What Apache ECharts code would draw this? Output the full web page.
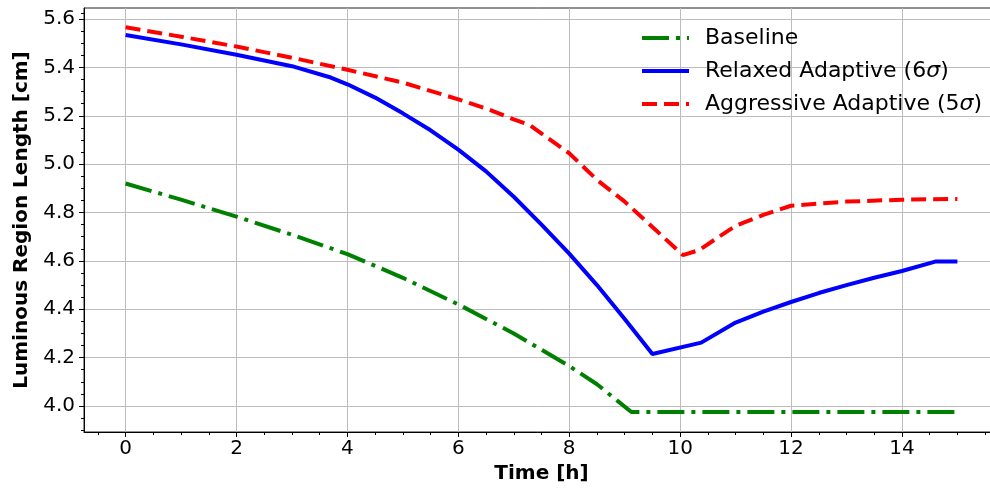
<!DOCTYPE html>
<html>
<head>
<meta charset="utf-8">
<script src="https://cdn.jsdelivr.net/npm/echarts@6/dist/echarts.min.js"></script>
<style>html,body{margin:0;padding:0;background:#fff}#c{width:990px;height:491px}</style>
</head>
<body>
<div id="c"></div>
<script>
var seriesNames = ['Baseline', 'Relaxed Adaptive (6σ)', 'Aggressive Adaptive (5σ)'];
var baseX = [0, 1, 2, 3, 4, 5, 6, 7, 8, 8.5, 9.12, 15];
var baseY = [4.92, 4.853, 4.783, 4.708, 4.628, 4.53, 4.42, 4.30, 4.165, 4.09, 3.975, 3.975];
var relX = [0, 1, 2, 3, 3.7, 4, 4.5, 5, 5.5, 6, 6.5, 7, 7.5, 8, 8.5, 9, 9.5, 10.38, 11, 11.5, 12, 12.5, 13, 13.5, 14, 14.6, 15];
var relY = [5.534, 5.495, 5.452, 5.405, 5.358, 5.33, 5.275, 5.21, 5.14, 5.06, 4.97, 4.865, 4.75, 4.63, 4.50, 4.36, 4.215, 4.262, 4.345, 4.39, 4.43, 4.467, 4.50, 4.53, 4.558, 4.597, 4.597];
var aggX = [0, 1, 2, 3, 4, 5, 6, 6.5, 7, 7.3, 7.6, 8, 8.5, 9, 9.5, 10.05, 10.35, 10.7, 11, 11.5, 12, 13, 14, 15];
var aggY = [5.566, 5.527, 5.486, 5.44, 5.39, 5.337, 5.268, 5.23, 5.185, 5.16, 5.11, 5.045, 4.935, 4.845, 4.74, 4.624, 4.645, 4.70, 4.745, 4.79, 4.828, 4.845, 4.853, 4.856];
var xTicks = [0, 2, 4, 6, 8, 10, 12, 14];
var xMinor = [-0.5, 0.5, 1, 1.5, 2.5, 3, 3.5, 4.5, 5, 5.5, 6.5, 7, 7.5, 8.5, 9, 9.5, 10.5, 11, 11.5, 12.5, 13, 13.5, 14.5, 15, 15.5];
var yTicks = [4.0, 4.2, 4.4, 4.6, 4.8, 5.0, 5.2, 5.4, 5.6];
var yMinor = [3.9, 3.95, 4.05, 4.1, 4.15, 4.25, 4.3, 4.35, 4.45, 4.5, 4.55, 4.65, 4.7, 4.75, 4.85, 4.9, 4.95, 5.05, 5.1, 5.15, 5.25, 5.3, 5.35, 5.45, 5.5, 5.55, 5.6001, 5.625];

function pairs(xs, ys) { return xs.map(function (x, i) { return [x, ys[i]]; }); }

var FONT = 'DejaVu Sans';
var XMIN = -0.75, XMAX = 15.75, YMIN = 3.8925, YMAX = 5.6455;
var gridColor = '#bcbcbc';
var colors = ['#008000', '#0000ff', '#ff0000'];
var dashes = [[27, 7, 4, 7], 'solid', [15, 7]];

var chart = echarts.init(document.getElementById('c'), null, { renderer: 'canvas' });
chart.setOption({
  animation: false,
  backgroundColor: '#fff',
  textStyle: { fontFamily: FONT },
  grid: { left: 84, top: 8, width: 915, height: 424, show: true, borderColor: '#222', borderWidth: 1, backgroundColor: 'transparent', containLabel: false, outerBoundsMode: 'none' },
  legend: {
    orient: 'vertical', left: 635, top: 22, itemWidth: 47, itemHeight: 14, itemGap: 11,
    textStyle: { fontFamily: FONT, fontSize: 22, color: '#000', padding: [0, 0, 0, 11],
      rich: { i: { fontFamily: FONT, fontStyle: 'italic', fontSize: 22, color: '#000' } } },
    formatter: function (n) { return n.replace('σ', '{i|σ}'); },
    data: seriesNames.map(function (n, i) {
      return { name: n, itemStyle: { opacity: 0 }, lineStyle: { color: colors[i], width: 4, type: dashes[i], cap: 'butt' } };
    })
  },
  xAxis: [{
    type: 'value', min: XMIN, max: XMAX, gridIndex: 0,
    name: 'Time [h]', nameLocation: 'middle', nameGap: 27,
    nameTextStyle: { fontFamily: FONT, fontSize: 20, fontWeight: 'bold', color: '#000' },
    axisLine: { show: true, onZero: false, lineStyle: { color: '#000', width: 1 } },
    axisTick: { show: true, customValues: xTicks, length: 5, lineStyle: { color: '#000' } },
    axisLabel: { customValues: xTicks, fontFamily: FONT, fontSize: 20, color: '#000', margin: 7 },
    splitLine: { show: true, lineStyle: { color: gridColor, width: 1 } }
  }, {
    type: 'value', min: XMIN, max: XMAX, gridIndex: 0, position: 'bottom',
    axisLine: { show: false, onZero: false },
    axisTick: { show: true, customValues: xMinor, length: 3, lineStyle: { color: '#000' } },
    axisLabel: { show: false }, splitLine: { show: false }
  }],
  yAxis: [{
    type: 'value', min: YMIN, max: YMAX, gridIndex: 0,
    name: 'Luminous Region Length [cm]', nameLocation: 'middle', nameGap: 50,
    nameTextStyle: { fontFamily: FONT, fontSize: 20, fontWeight: 'bold', color: '#000' },
    axisLine: { show: true, onZero: false, lineStyle: { color: '#000', width: 1 } },
    axisTick: { show: true, customValues: yTicks, length: 5, lineStyle: { color: '#000' } },
    axisLabel: { customValues: yTicks, fontFamily: FONT, fontSize: 20, color: '#000', margin: 9,
      formatter: function (v) { return v.toFixed(1); } },
    splitLine: { show: true, lineStyle: { color: gridColor, width: 1 } }
  }, {
    type: 'value', min: YMIN, max: YMAX, gridIndex: 0, position: 'left',
    axisLine: { show: false, onZero: false },
    axisTick: { show: true, customValues: yMinor, length: 3, lineStyle: { color: '#000' } },
    axisLabel: { show: false }, splitLine: { show: false }
  }],
  series: [0, 1, 2].map(function (i) {
    var d = [pairs(baseX, baseY), pairs(relX, relY), pairs(aggX, aggY)][i];
    return {
      name: seriesNames[i], type: 'line', data: d, showSymbol: false, symbol: 'none',
      color: colors[i],
      lineStyle: { color: colors[i], width: 4, type: dashes[i], cap: 'butt' }
    };
  })
});
</script>
</body>
</html>
